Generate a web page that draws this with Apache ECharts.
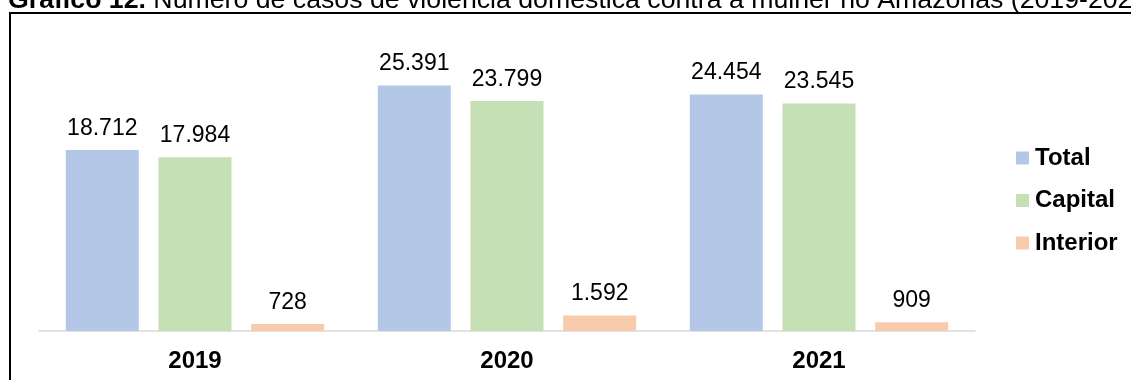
<!DOCTYPE html>
<html>
<head>
<meta charset="utf-8">
<script src="https://cdn.jsdelivr.net/npm/echarts@6/dist/echarts.min.js"></script>
<style>
  html, body { margin: 0; padding: 0; background: #ffffff; }
  #chart { width: 1131px; height: 380px; }
</style>
</head>
<body>
<div id="chart"></div>
<script>
// Casos de violência doméstica contra a mulher no Amazonas, por ano
const years = ['2019', '2020', '2021'];
const totalCases = [18712, 25391, 24454];
const capitalCases = [17984, 23799, 23545];
const interiorCases = [728, 1592, 909];
const seriesNames = ['Total', 'Capital', 'Interior'];
const seriesColors = ['#B4C7E7', '#C5E0B4', '#F8CBAD'];

const FONT = '"Liberation Sans", Arial, sans-serif';

// 18712 -> "18.712"
function formatThousands(v) {
  return String(v).replace(/\B(?=(\d{3})+(?!\d))/g, '.');
}

const chart = echarts.init(document.getElementById('chart'), null, { renderer: 'canvas' });

function barSeries(name, data, color) {
  return {
    name: name,
    type: 'bar',
    data: data,
    barWidth: 73,
    barGap: '27%',
    itemStyle: { color: color },
    label: {
      show: true,
      position: 'top',
      distance: 10,
      fontFamily: FONT,
      fontSize: 23,
      color: '#000000',
      formatter: p => formatThousands(p.value)
    }
  };
}

chart.setOption({
  animation: false,
  backgroundColor: '#ffffff',
  textStyle: { fontFamily: FONT },
  graphic: [
    {
      type: 'text',
      left: 8,
      top: -13,
      style: {
        text: '{b|Gráfico 12.} Número de casos de violência doméstica contra a mulher no Amazonas (2019-2021)',
        fontFamily: FONT,
        fontSize: 26.7,
        fill: '#000000',
        rich: {
          b: { fontFamily: FONT, fontSize: 26.7, fontWeight: 'bold', fill: '#000000' }
        }
      }
    },
    {
      type: 'rect',
      shape: { x: 10, y: 13, width: 1400, height: 600 },
      style: { fill: 'none', stroke: '#000000', lineWidth: 2 },
      silent: true
    }
  ],
  grid: { left: 39, right: 156, top: 41, bottom: 49, containLabel: false },
  legend: {
    orient: 'vertical',
    left: 1016,
    top: 146,
    padding: 0,
    itemWidth: 13,
    itemHeight: 13,
    itemGap: 18.5,
    icon: 'rect',
    data: seriesNames,
    textStyle: { fontFamily: FONT, fontSize: 24, fontWeight: 'bold', color: '#000000', padding: [0, 0, 0, 1] }
  },
  xAxis: {
    type: 'category',
    data: years,
    axisLine: { show: true, lineStyle: { color: '#D9D9D9', width: 1.5 } },
    axisTick: { show: false },
    axisLabel: { fontFamily: FONT, fontSize: 24, fontWeight: 'bold', color: '#000000', margin: 18 }
  },
  yAxis: {
    type: 'value',
    min: 0,
    max: 30000,
    show: false,
    splitLine: { show: false }
  },
  series: [
    barSeries(seriesNames[0], totalCases, seriesColors[0]),
    barSeries(seriesNames[1], capitalCases, seriesColors[1]),
    barSeries(seriesNames[2], interiorCases, seriesColors[2])
  ]
});
</script>
</body>
</html>
